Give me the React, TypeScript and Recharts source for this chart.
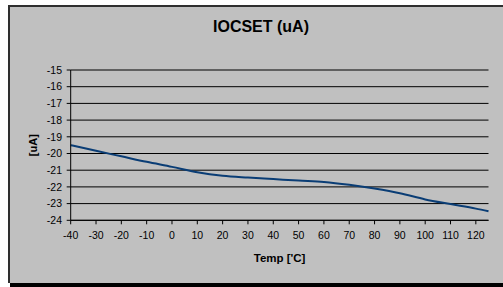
import React from 'react';
import { LineChart, Line, XAxis, YAxis, CartesianGrid } from 'recharts';

const temps = [-40, -30, -20, -10, 0, 10, 20, 30, 40, 50, 60, 70, 80, 90, 100, 110, 120, 125];
const iocset = [-19.5, -19.84, -20.17, -20.5, -20.8, -21.12, -21.33, -21.44, -21.53, -21.62, -21.7, -21.87, -22.1, -22.38, -22.75, -23.03, -23.3, -23.46];
const xTicks = [-40, -30, -20, -10, 0, 10, 20, 30, 40, 50, 60, 70, 80, 90, 100, 110, 120];
const yTicks = [-24, -23, -22, -21, -20, -19, -18, -17, -16, -15];

const title = 'IOCSET (uA)';
const xLabel = "Temp ['C]";
const yLabel = '[uA]';

const data = temps.map((t, i) => ({ t, v: iocset[i] }));

const FONT = '"Liberation Sans", Arial, Helvetica, sans-serif';

export default function App() {
  return (
    <div style={{ position: 'absolute', left: 0, top: 0, width: 503, height: 287, background: '#ffffff', overflow: 'hidden', fontFamily: FONT }}>
      <div style={{ position: 'absolute', left: 8, top: 5, width: 495, height: 278, background: '#c0c0c0', borderTop: '2px solid #2e2e2e', borderLeft: '2px solid #2e2e2e', boxSizing: 'border-box' }} />
      <div style={{ position: 'absolute', left: 10, top: 283, width: 493, height: 4, background: '#000000' }} />
      <div style={{ position: 'absolute', left: 0, top: 0 }}>
        <LineChart width={503} height={287} data={data} margin={{ top: 70, right: 14.5, bottom: 21.7, left: 10.7 }}>
          <CartesianGrid vertical={false} stroke="#000000" strokeWidth={1} />
          <XAxis
            dataKey="t"
            type="number"
            domain={[-40, 125]}
            ticks={xTicks}
            interval={0}
            height={45}
            tickSize={4}
            tickMargin={7}
            axisLine={{ stroke: '#000000' }}
            tickLine={{ stroke: '#000000' }}
            tick={{ fill: '#000000', fontSize: 10.5, fontFamily: FONT }}
            label={{
              value: xLabel,
              content: ({ viewBox }: any) => (
                <text x={viewBox.x + viewBox.width / 2} y={261.7} textAnchor="middle" fontSize={11.5} fontWeight="bold" fontFamily={FONT} fill="#000000">
                  {xLabel}
                </text>
              ),
            }}
          />
          <YAxis
            type="number"
            domain={[-24, -15]}
            ticks={yTicks}
            interval={0}
            width={60}
            tickSize={4}
            tickMargin={4.7}
            axisLine={{ stroke: '#000000' }}
            tickLine={{ stroke: '#000000' }}
            tick={{ fill: '#000000', fontSize: 10.5, fontFamily: FONT }}
            label={{
              value: yLabel,
              content: ({ viewBox }: any) => {
                const cy = viewBox.y + viewBox.height / 2;
                return (
                  <text x={37.5} y={cy} textAnchor="middle" fontSize={11} fontWeight="bold" fontFamily={FONT} fill="#000000" transform={`rotate(-90, 37.5, ${cy})`}>
                    {yLabel}
                  </text>
                );
              },
            }}
          />
          <Line type="monotone" dataKey="v" stroke="#0a3d75" strokeWidth={2} dot={false} isAnimationActive={false} />
        </LineChart>
      </div>
      <svg style={{ position: 'absolute', left: 0, top: 0, pointerEvents: 'none' }} width={503} height={287}>
        <text x={261} y={32.3} textAnchor="middle" fontSize={16} fontWeight="bold" fontFamily={FONT} fill="#000000">
          {title}
        </text>
      </svg>
    </div>
  );
}
